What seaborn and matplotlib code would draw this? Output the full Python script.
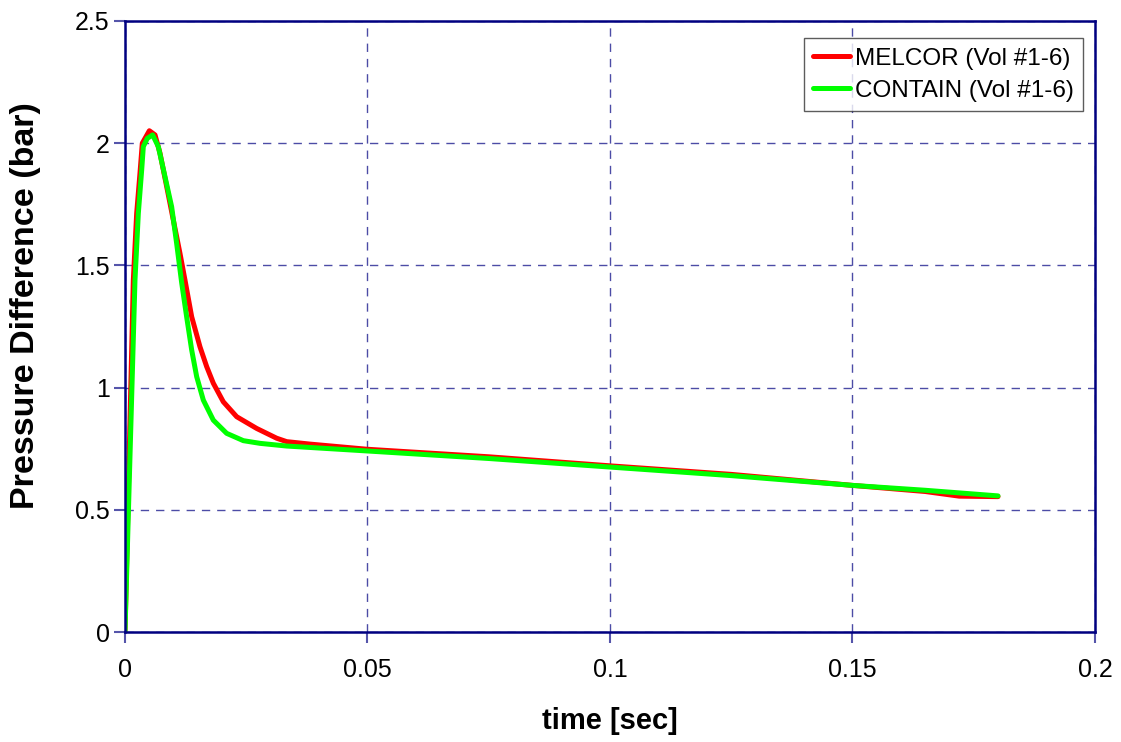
import matplotlib
matplotlib.use("Agg")
import matplotlib.pyplot as plt
import pandas as pd
import seaborn as sns

# values
melcor_t = [0.0, 0.00172, 0.00241, 0.00309, 0.00357, 0.00502, 0.00619, 0.00722,
            0.0086, 0.00996, 0.01134, 0.01237, 0.01375, 0.01546, 0.01684,
            0.01821, 0.02027, 0.02303, 0.02715, 0.03127, 0.03333, 0.0381,
            0.0498, 0.075, 0.1, 0.125, 0.15, 0.165, 0.172, 0.18]
melcor_p = [0.0, 1.44, 1.713, 1.877, 2.0, 2.051, 2.034, 1.959,
            1.822, 1.686, 1.549, 1.44, 1.29, 1.167, 1.086,
            1.018, 0.942, 0.881, 0.833, 0.793, 0.779, 0.769,
            0.748, 0.717, 0.68, 0.645, 0.60, 0.575, 0.556, 0.554]

contain_t = [0.0, 0.00206, 0.00275, 0.00344, 0.00378, 0.0046, 0.0057, 0.00687,
             0.00825, 0.00962, 0.01065, 0.01168, 0.01271, 0.01375, 0.01478,
             0.01615, 0.01821, 0.02096, 0.0244, 0.02784, 0.03333, 0.0498,
             0.075, 0.1, 0.125, 0.15, 0.165, 0.18]
contain_p = [0.0, 1.44, 1.713, 1.89, 1.986, 2.02, 2.034, 1.986,
             1.863, 1.74, 1.59, 1.43, 1.29, 1.154, 1.045,
             0.949, 0.867, 0.813, 0.783, 0.772, 0.761, 0.741,
             0.71, 0.675, 0.64, 0.60, 0.58, 0.557]

labels = ["MELCOR (Vol #1-6)", "CONTAIN (Vol #1-6)"]

df = pd.concat([
    pd.DataFrame({"time": melcor_t, "dp": melcor_p, "case": labels[0]}),
    pd.DataFrame({"time": contain_t, "dp": contain_p, "case": labels[1]}),
])

sns.set_theme(style="white")
plt.rcParams["font.family"] = ["Liberation Sans", "DejaVu Sans"]
plt.rcParams["text.color"] = "black"
plt.rcParams["axes.labelcolor"] = "black"

navy = "#000080"
fig = plt.figure(figsize=(11.21, 7.42), dpi=100)
ax = fig.add_axes([0.1115, 0.1482, 0.8653, 0.8235])

sns.lineplot(
    data=df, x="time", y="dp", hue="case", hue_order=labels,
    palette={labels[0]: "#ff0000", labels[1]: "#00ff00"},
    linewidth=3.6, sort=False, estimator=None, ax=ax,
)

ax.set_xlim(0, 0.2)
ax.set_ylim(0, 2.5)
ax.set_xticks([0, 0.05, 0.1, 0.15, 0.2])
ax.set_xticklabels(["0", "0.05", "0.1", "0.15", "0.2"])
ax.set_yticks([0, 0.5, 1, 1.5, 2, 2.5])
ax.set_yticklabels(["0", "0.5", "1", "1.5", "2", "2.5"])
ax.grid(True, color=navy, linestyle=(0, (6, 5)), linewidth=1, alpha=0.7)
ax.tick_params(axis="both", direction="out", length=8, width=1.5, color="#5555aa",
               labelsize=18, labelcolor="black", bottom=True, left=True)
ax.tick_params(axis="x", pad=11)
ax.tick_params(axis="y", pad=3)
for s in ax.spines.values():
    s.set_color(navy)
    s.set_linewidth(1.8)

ax.set_xlabel("time [sec]", fontsize=21, fontweight="bold", labelpad=18)
ax.set_ylabel("Pressure Difference (bar)", fontsize=24.5, fontweight="bold")
ax.yaxis.set_label_coords(-0.087, 0.535)

leg = ax.legend(loc="upper right", bbox_to_anchor=(0.993, 0.98), fontsize=17.5,
                frameon=True, fancybox=False, handlelength=1.5, handletextpad=0.2,
                borderpad=0.4, labelspacing=0.4, borderaxespad=0.2)
leg.get_frame().set_edgecolor("#333333")
leg.get_frame().set_linewidth(1.0)
leg.set_title(None)

fig.savefig("out.png", dpi=100)
